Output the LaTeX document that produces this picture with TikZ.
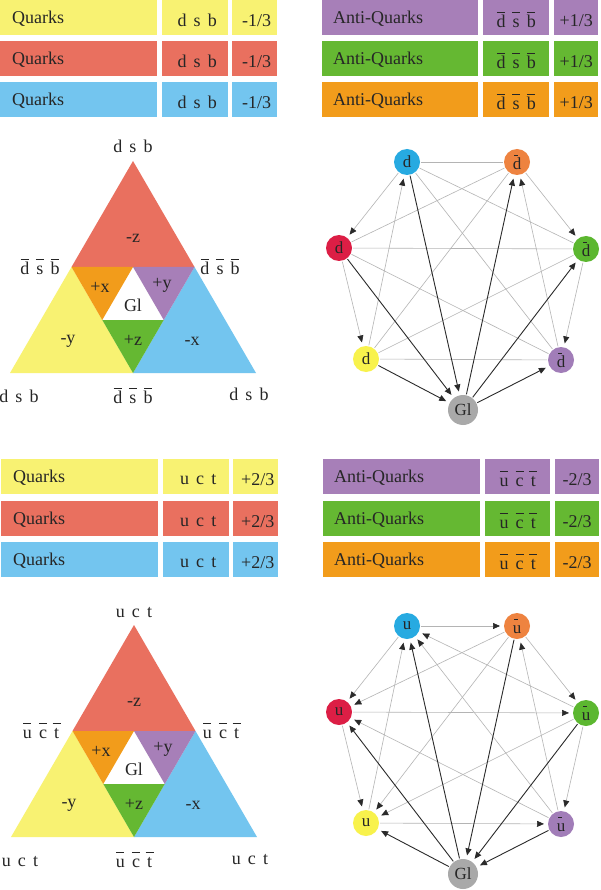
\documentclass[tikz,border=0pt]{standalone}
\usepackage{fontspec}
\setmainfont{Liberation Serif}
\usetikzlibrary{arrows.meta}
\definecolor{tyellow}{HTML}{F8F272}
\definecolor{tred}{HTML}{E9705F}
\definecolor{tblue}{HTML}{73C5EF}
\definecolor{tpurple}{HTML}{A77FB8}
\definecolor{tgreen}{HTML}{65B832}
\definecolor{torange}{HTML}{F29C1B}
\definecolor{nblue}{HTML}{27AAE1}
\definecolor{norange}{HTML}{EE8340}
\definecolor{nred}{HTML}{DC1E45}
\definecolor{ngreen}{HTML}{5CB730}
\definecolor{nyellow}{HTML}{F8F24C}
\definecolor{npurple}{HTML}{A17DB8}
\definecolor{ngray}{HTML}{A9A9A9}
\definecolor{lightedge}{HTML}{B4B4B4}
\definecolor{darkedge}{HTML}{2A2A2A}
\newcommand\qbar[1]{\setbox0\hbox{#1}\rlap{\hbox to\wd0{\hss\raisebox{0.8em}{\rule{0.45em}{0.055em}}\hss}}\box0}
\newcommand\gbar[1]{\setbox0\hbox{#1}\rlap{\hbox to\wd0{\hss\raisebox{0.8em}{\rule{0.22em}{0.065em}}\hspace{0.12em}\hss}}\box0}
\newcommand\qsp{\hspace{0.4em}}
\tikzset{
  cellst/.style={rectangle, inner sep=0pt, minimum height=35pt},
  txt/.style={inner sep=0pt, text=black!85},
  gnode/.style={circle, inner sep=0pt, minimum size=26pt, text=black!85, outer sep=1pt, font=\fontsize{17}{19}\selectfont},
  gl/.style={gnode, fill=ngray, minimum size=30pt},
  ledge/.style={draw=lightedge, line width=0.6pt},
  larr/.style={ledge, -{Triangle[length=7pt,width=6pt,color=darkedge]}, shorten >=3pt},
  darr/.style={draw=darkedge, line width=0.9pt, -{Triangle[length=7pt,width=6pt]}, shorten >=3pt},
}
\newcommand\qtabrow[9]{%
  \node[cellst, fill=#3, minimum width=157pt, anchor=north west] (#1a) at (#9+0,#2) {};
  \node[cellst, fill=#3, minimum width=66pt, anchor=north west] (#1b) at (#9+162,#2) {};
  \node[cellst, fill=#3, minimum width=45pt, anchor=north west] (#1c) at (#9+232,#2) {};
  \node[txt, anchor=west] (#1ta) at ([xshift=12pt,yshift=-1.5pt]#1a.west) {#6};
  \node[txt] (#1tb) at ([xshift=2pt,yshift=-3pt]#1b.center) {#7};
  \node[txt] (#1tc) at ([xshift=2pt,yshift=-3pt]#1c.center) {#8};
}
\newcommand\qtri[5]{%
  \begin{scope}[shift={(#5)}]
  \coordinate (#1A) at (133,161);
  \coordinate (#1L) at (10,373);
  \coordinate (#1R) at (256,373);
  \coordinate (#1ML) at (71.5,267);
  \coordinate (#1MR) at (194.5,267);
  \coordinate (#1MB) at (133,373);
  \coordinate (#1I1) at (133,267);
  \coordinate (#1I2) at (102.25,320);
  \coordinate (#1I3) at (163.75,320);
  \fill[tred] (#1A) -- (#1ML) -- (#1MR) -- cycle;
  \fill[tyellow] (#1ML) -- (#1L) -- (#1MB) -- cycle;
  \fill[tblue] (#1MR) -- (#1MB) -- (#1R) -- cycle;
  \fill[torange] (#1ML) -- (#1I1) -- (#1I2) -- cycle;
  \fill[tpurple] (#1I1) -- (#1MR) -- (#1I3) -- cycle;
  \fill[tgreen] (#1I2) -- (#1I3) -- (#1MB) -- cycle;
  \node[txt] (#1lz) at (133,238) {-z};
  \node[txt] (#1lx) at (100,287) {+x};
  \node[txt] (#1ly) at (162,285) {+y};
  \node[txt] (#1lg) at (133,305) {Gl};
  \node[txt] (#1lmy) at (68,341) {-y};
  \node[txt] (#1lpz) at (133,340) {+z};
  \node[txt] (#1lmx) at (192,341) {-x};
  \node[txt, anchor=base] (#1top) at (133,153) {#2};
  \node[txt, anchor=base] (#1bl) at (19,402) {#2};
  \node[txt, anchor=base] (#1br) at (249,400) {#2};
  \node[txt, anchor=base] (#1lft) at (40,274) {#3};
  \node[txt, anchor=base] (#1rgt) at (220,274) {#3};
  \node[txt, anchor=base] (#1bot) at (133,403) {#3};
  \end{scope}
}
\newcommand\qnodes[4]{%
  \begin{scope}[shift={(#4)}]
  \node[gnode, fill=nblue] (#1B) at (407,162) {#2};
  \node[gnode, fill=norange] (#1O) at (517,162) {\gbar{#2}};
  \node[gnode, fill=nred] (#1R) at (339,248) {#2};
  \node[gnode, fill=ngreen] (#1G) at (586,249) {\gbar{#2}};
  \node[gnode, fill=nyellow] (#1Y) at (366,359) {#2};
  \node[gnode, fill=npurple] (#1P) at (561,360) {\gbar{#2}};
  \node[gl] (#1Gl) at (463,410) {Gl};
  \end{scope}
}
\begin{document}
\begin{tikzpicture}[x=1pt,y=-1pt,font=\fontsize{18}{21}\selectfont]
\useasboundingbox[fill=white] (0,0) rectangle (600,890);
% ---------- top tables ----------
\qtabrow{qa}{0}{tyellow}{}{}{Quarks}{d\qsp s\qsp b}{-1/3}{0}
\qtabrow{qb}{41}{tred}{}{}{Quarks}{d\qsp s\qsp b}{-1/3}{0}
\qtabrow{qc}{82}{tblue}{}{}{Quarks}{d\qsp s\qsp b}{-1/3}{0}
\node[cellst, fill=tpurple, minimum width=156pt, anchor=north west] (aa) at (322,0) {};
\node[cellst, fill=tpurple, minimum width=66pt, anchor=north west] (ab) at (483,0) {};
\node[cellst, fill=tpurple, minimum width=44pt, anchor=north west] (ac) at (554,0) {};
\node[cellst, fill=tgreen, minimum width=156pt, anchor=north west] (ba) at (322,41) {};
\node[cellst, fill=tgreen, minimum width=66pt, anchor=north west] (bb) at (483,41) {};
\node[cellst, fill=tgreen, minimum width=44pt, anchor=north west] (bc) at (554,41) {};
\node[cellst, fill=torange, minimum width=156pt, anchor=north west] (ca) at (322,82) {};
\node[cellst, fill=torange, minimum width=66pt, anchor=north west] (cb) at (483,82) {};
\node[cellst, fill=torange, minimum width=44pt, anchor=north west] (cc) at (554,82) {};
\foreach \r in {a,b,c}{
  \node[txt, anchor=west] (\r at) at ([xshift=11pt,yshift=-1.5pt]\r a.west) {Anti-Quarks};
  \node[txt] (\r bt) at ([yshift=-2pt]\r b.center) {\qbar{d}\qsp\qbar{s}\qsp\qbar{b}};
  \node[txt] (\r ct) at ([yshift=-3pt]\r c.center) {+1/3};
}
% ---------- bottom tables ----------
\qtabrow{qd}{459}{tyellow}{}{}{Quarks}{u\qsp c\qsp t}{+2/3}{1}
\qtabrow{qe}{501}{tred}{}{}{Quarks}{u\qsp c\qsp t}{+2/3}{1}
\qtabrow{qf}{542}{tblue}{}{}{Quarks}{u\qsp c\qsp t}{+2/3}{1}
\node[cellst, fill=tpurple, minimum width=157pt, anchor=north west] (da) at (323,459) {};
\node[cellst, fill=tpurple, minimum width=65pt, anchor=north west] (db) at (485,459) {};
\node[cellst, fill=tpurple, minimum width=44pt, anchor=north west] (dc) at (555,459) {};
\node[cellst, fill=tgreen, minimum width=157pt, anchor=north west] (ea) at (323,501) {};
\node[cellst, fill=tgreen, minimum width=65pt, anchor=north west] (eb) at (485,501) {};
\node[cellst, fill=tgreen, minimum width=44pt, anchor=north west] (ec) at (555,501) {};
\node[cellst, fill=torange, minimum width=157pt, anchor=north west] (fa) at (323,542) {};
\node[cellst, fill=torange, minimum width=65pt, anchor=north west] (fb) at (485,542) {};
\node[cellst, fill=torange, minimum width=44pt, anchor=north west] (fc) at (555,542) {};
\foreach \r in {d,e,f}{
  \node[txt, anchor=west] (\r at) at ([xshift=11pt,yshift=-1.5pt]\r a.west) {Anti-Quarks};
  \node[txt] (\r bt) at ([yshift=-2pt]\r b.center) {\qbar{u}\qsp\qbar{c}\qsp\qbar{t}};
  \node[txt] (\r ct) at ([yshift=-3pt]\r c.center) {-2/3};
}
% ---------- triangles ----------
\qtri{ta}{d\qsp s\qsp b}{\qbar{d}\qsp\qbar{s}\qsp\qbar{b}}{}{0,0}
\qtri{tb}{u\qsp c\qsp t}{\qbar{u}\qsp\qbar{c}\qsp\qbar{t}}{}{1,464}
% ---------- graph (d) ----------
\qnodes{g}{d}{}{0,0}
\draw[ledge] (gB) -- (gO);
\draw[ledge] (gR) -- (gG);
\draw[ledge] (gY) -- (gP);
\draw[ledge] (gB) -- (gG);
\draw[ledge] (gB) -- (gP);
\draw[ledge] (gO) -- (gR);
\draw[ledge] (gO) -- (gY);
\draw[ledge] (gR) -- (gP);
\draw[ledge] (gG) -- (gY);
\draw[larr] (gB) -- (gR);
\draw[larr] (gR) -- (gY);
\draw[larr] (gY) -- (gB);
\draw[larr] (gO) -- (gG);
\draw[larr] (gG) -- (gP);
\draw[larr] (gP) -- (gO);
\draw[darr] (gB) -- (gGl);
\draw[darr] (gR) -- (gGl);
\draw[darr] (gY) -- (gGl);
\draw[darr] (gGl) -- (gO);
\draw[darr] (gGl) -- (gG);
\draw[darr] (gGl) -- (gP);
% ---------- graph (u) ----------
\qnodes{h}{u}{}{0,464}
\draw[larr] (hB) -- (hO);
\draw[larr] (hO) -- (hR);
\draw[larr] (hB) -- (hR);
\draw[larr] (hO) -- (hG);
\draw[larr] (hG) -- (hB);
\draw[larr] (hP) -- (hB);
\draw[larr] (hY) -- (hB);
\draw[larr] (hP) -- (hO);
\draw[larr] (hR) -- (hG);
\draw[larr] (hO) -- (hY);
\draw[larr] (hG) -- (hY);
\draw[larr] (hR) -- (hY);
\draw[larr] (hY) -- (hP);
\draw[larr] (hG) -- (hP);
\draw[larr] (hP) -- (hR);
\draw[darr] (hGl) -- (hB);
\draw[darr] (hGl) -- (hR);
\draw[darr] (hGl) -- (hY);
\draw[darr] (hO) -- (hGl);
\draw[darr] (hG) -- (hGl);
\draw[darr] (hP) -- (hGl);
\end{tikzpicture}
\end{document}
